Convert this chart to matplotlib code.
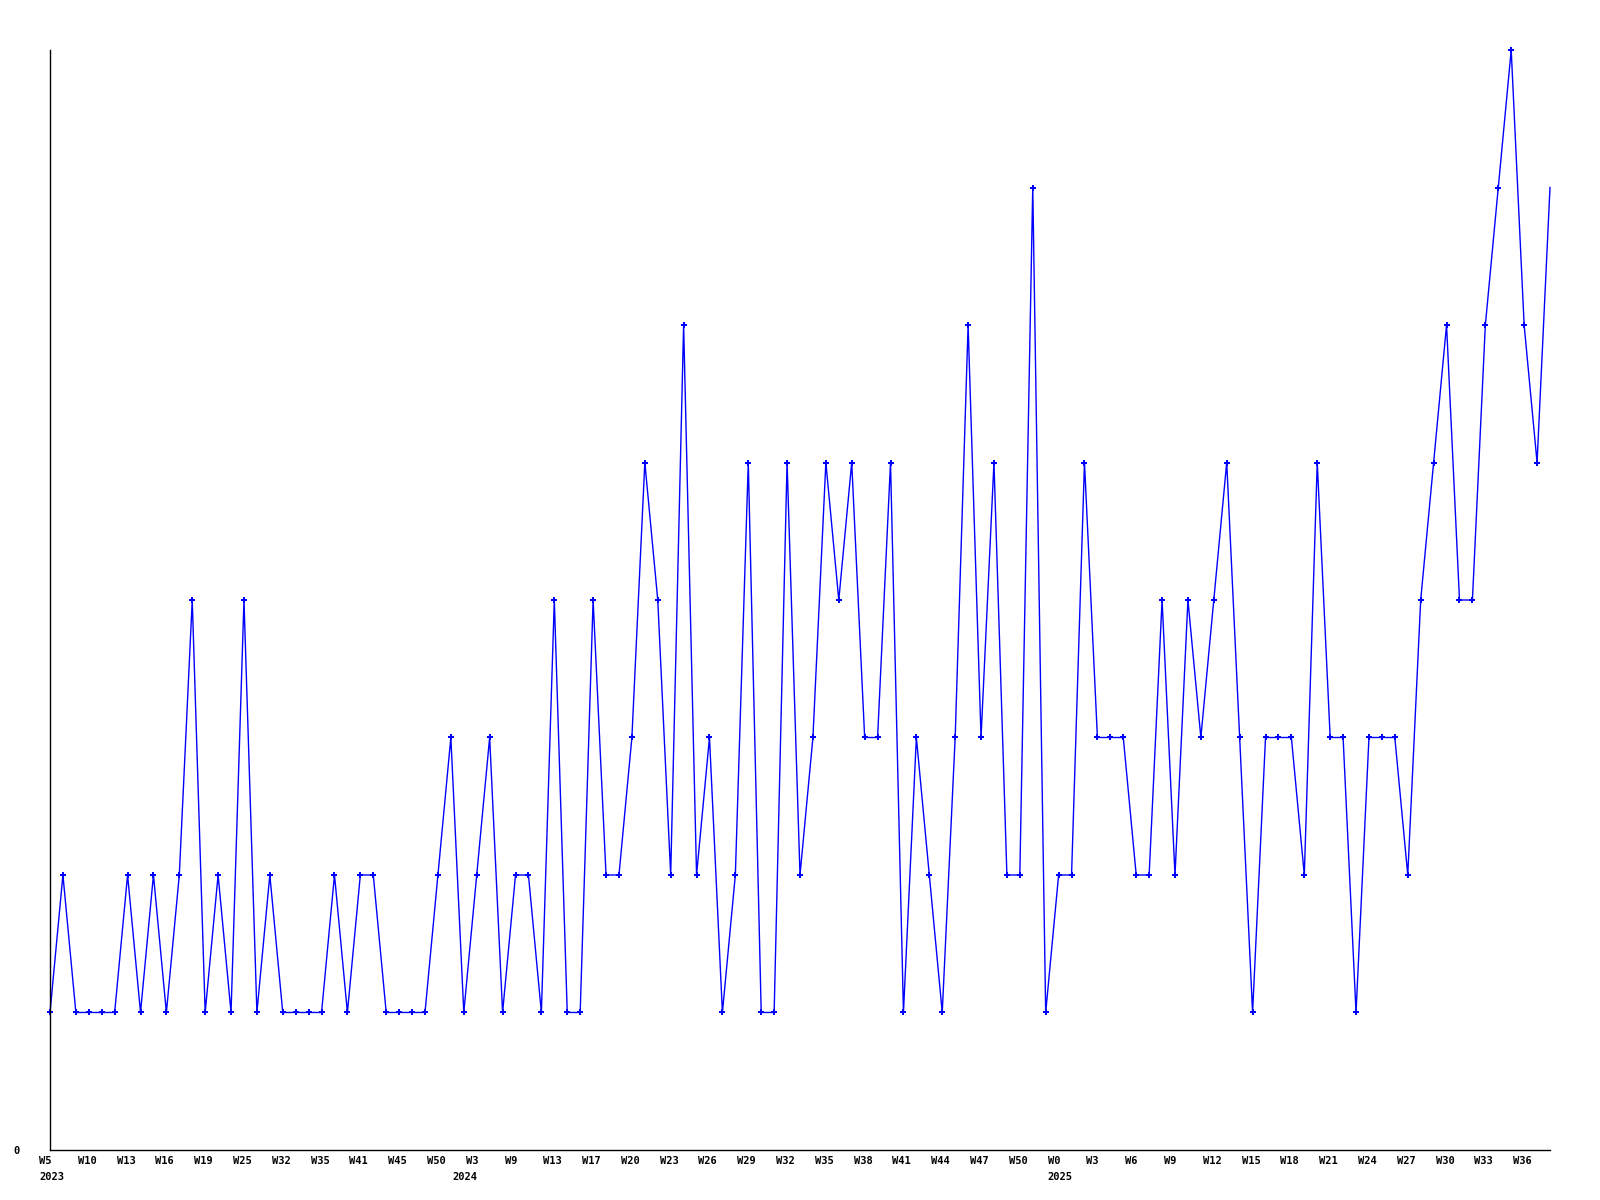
import matplotlib
matplotlib.use("Agg")
import matplotlib.pyplot as plt
import matplotlib.transforms as mtransforms

# weekly counts, one per week that has data (oldest first)
counts = [1, 2, 1, 1, 1, 1, 2, 1, 2, 1, 2, 4, 1, 2, 1, 4, 1, 2, 1, 1,
          1, 1, 2, 1, 2, 2, 1, 1, 1, 1, 2, 3, 1, 2, 3, 1, 2, 2, 1, 4,
          1, 1, 4, 2, 2, 3, 5, 4, 2, 6, 2, 3, 1, 2, 5, 1, 1, 5, 2, 3,
          5, 4, 5, 3, 3, 5, 1, 3, 2, 1, 3, 6, 3, 5, 2, 2, 7, 1, 2, 2,
          5, 3, 3, 3, 2, 2, 4, 2, 4, 3, 4, 5, 3, 1, 3, 3, 3, 2, 5, 3,
          3, 1, 3, 3, 3, 2, 4, 5, 6, 4, 4, 6, 7, 8, 6, 5, 7]

# labels shown on every third point
week_labels = ['W5', 'W10', 'W13', 'W16', 'W19', 'W25', 'W32', 'W35', 'W41', 'W45', 'W50',
               'W3', 'W9', 'W13', 'W17', 'W20', 'W23', 'W26', 'W29', 'W32', 'W35', 'W38',
               'W41', 'W44', 'W47', 'W50',
               'W0', 'W3', 'W6', 'W9', 'W12', 'W15', 'W18', 'W21', 'W24', 'W27', 'W30',
               'W33', 'W36']

# year names and the index of the first week of each year
years = ['2023', '2024', '2025']
year_start = [0, 32, 78]

x = list(range(len(counts)))

fig = plt.figure(figsize=(16, 12), dpi=100)
ax = fig.add_axes([0.03125, 0.0417, 0.9375, 0.9166])

ax.plot(x, counts, color='#0000ff', linewidth=1.0, marker='P', markersize=4.5,
        markeredgewidth=0, markevery=list(range(len(counts) - 1)), clip_on=False)

ax.set_xlim(0, len(counts) - 1)
ax.set_ylim(0, 8)

font = dict(family='DejaVu Sans Mono', fontweight='bold', fontsize=7.5)

# x labels are drawn as text so they can sit a little left of their point
ax.set_xticks([])
trans = mtransforms.blended_transform_factory(ax.transData, ax.transAxes)
week_off = mtransforms.ScaledTranslation(-11 / 100, -6 / 100, fig.dpi_scale_trans)
year_off = mtransforms.ScaledTranslation(-11 / 100, -22 / 100, fig.dpi_scale_trans)
for pos, lab in zip(x[::3], week_labels):
    ax.text(pos, 0, lab, transform=trans + week_off, ha='left', va='top', **font)
for name, idx in zip(years, year_start):
    ax.text(idx, 0, name, transform=trans + year_off, ha='left', va='top', **font)

ax.set_yticks([0])
ax.set_yticklabels(['0'], **font)

ax.tick_params(axis='both', length=0)
ax.tick_params(axis='y', pad=22)
ax.spines['top'].set_visible(False)
ax.spines['right'].set_visible(False)
ax.spines['left'].set_linewidth(1.0)
ax.spines['bottom'].set_linewidth(1.0)

fig.savefig('out.png', dpi=100)
